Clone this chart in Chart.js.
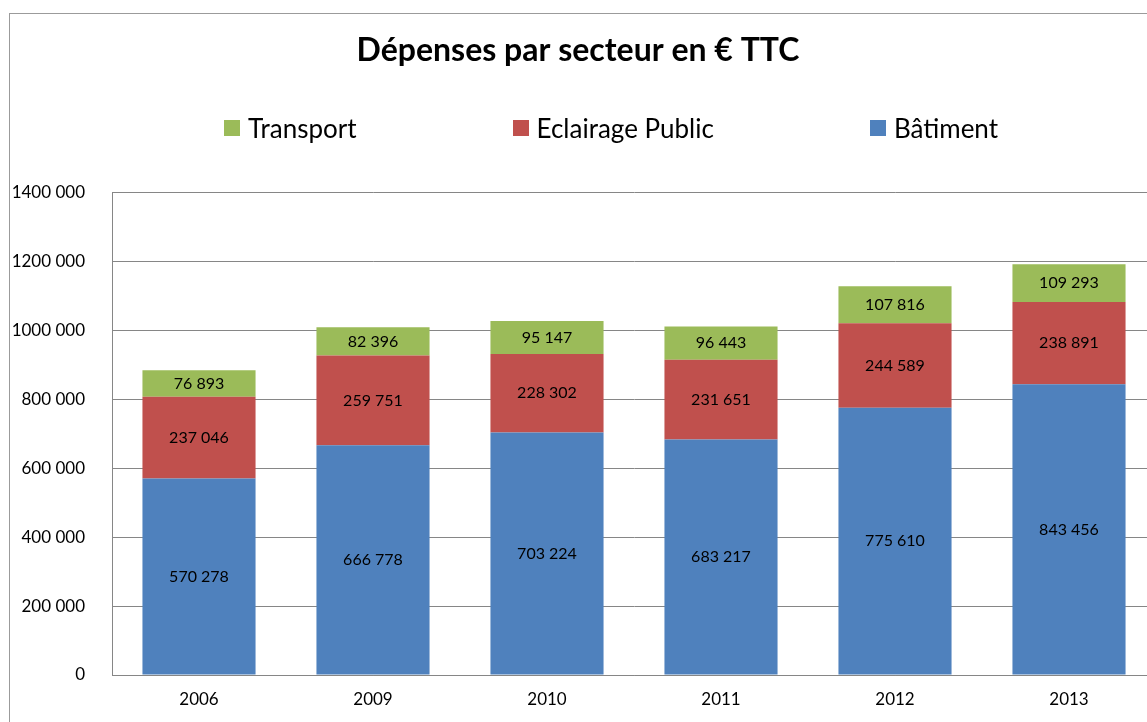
<!DOCTYPE html>
<html>
<head>
<meta charset="utf-8">
<script src="https://cdn.jsdelivr.net/npm/chart.js@4"></script>
<style>
  html, body { margin: 0; padding: 0; background: #fff; overflow: hidden; width: 1147px; height: 722px; }
  #frame { position: absolute; left: 9px; top: 13px; width: 1300px; height: 900px; border: 1px solid #9b9b9b; }
  #wrap { position: absolute; left: 0; top: 0; width: 1168px; height: 722px; }
  #legend { position: absolute; left: 224px; top: 112px; display: flex; gap: 156px; font: 26px Lato, sans-serif; color: #000; }
  #legend .item { display: flex; align-items: center; white-space: nowrap; }
  #legend .box { width: 16px; height: 16px; margin-right: 8px; display: inline-block; }
</style>
</head>
<body>
<div id="frame"></div>
<div id="wrap"><canvas id="chart" width="1168" height="722"></canvas></div>
<div id="legend"></div>
<script>
// Data
const years = ['2006', '2009', '2010', '2011', '2012', '2013'];
const batiment = [570278, 666778, 703224, 683217, 775610, 843456];
const eclairage = [237046, 259751, 228302, 231651, 244589, 238891];
const transport = [76893, 82396, 95147, 96443, 107816, 109293];
const yTickLabels = ['0', '200 000', '400 000', '600 000', '800 000', '1000 000', '1200 000', '1400 000'];

// Helpers
const fmt = v => String(v).replace(/\B(?=(\d{3})+(?!\d))/g, ' ');

Chart.defaults.font.family = 'Lato, sans-serif';
Chart.defaults.color = '#000';

// Value labels in the middle of each segment
const valueLabels = {
  id: 'valueLabels',
  afterDatasetsDraw(chart) {
    const { ctx } = chart;
    ctx.save();
    ctx.font = '16px Lato, sans-serif';
    ctx.fillStyle = '#000';
    ctx.textAlign = 'center';
    ctx.textBaseline = 'middle';
    chart.data.datasets.forEach((ds, i) => {
      chart.getDatasetMeta(i).data.forEach((bar, j) => {
        const p = bar.getCenterPoint();
        ctx.fillText(fmt(ds.data[j]), p.x, p.y);
      });
    });
    ctx.restore();
  }
};

const datasets = [
  { label: 'Bâtiment', data: batiment, backgroundColor: '#4F81BD' },
  { label: 'Eclairage Public', data: eclairage, backgroundColor: '#C0504D' },
  { label: 'Transport', data: transport, backgroundColor: '#9BBB59' }
];

const chart = new Chart(document.getElementById('chart'), {
  type: 'bar',
  data: { labels: years, datasets },
  options: {
    responsive: false,
    animation: false,
    layout: { padding: { left: 0, right: 12, top: 0, bottom: 0 } },
    datasets: { bar: { barPercentage: 1, categoryPercentage: 0.65, borderWidth: 0 } },
    plugins: {
      legend: { display: false },
      tooltip: { enabled: false },
      title: {
        display: true,
        text: 'Dépenses par secteur en € TTC',
        font: { size: 32, weight: 'bold' },
        color: '#000',
        padding: { top: 31, bottom: 123 }
      }
    },
    scales: {
      x: {
        stacked: true,
        grid: { display: false, drawTicks: false },
        border: { display: true, color: '#868686' },
        ticks: { padding: 14, font: { size: 17 } },
        afterFit: s => { s.height = 47; }
      },
      y: {
        stacked: true,
        min: 0, max: 1400000,
        grid: { color: '#868686', drawTicks: false },
        border: { display: true, color: '#868686' },
        ticks: {
          stepSize: 200000,
          padding: 27,
          font: { size: 17 },
          callback: (v, i) => yTickLabels[i]
        },
        afterFit: s => { s.width = 112; }
      }
    }
  },
  plugins: [valueLabels]
});

// Legend (reversed order, like the reference)
const legendEl = document.getElementById('legend');
datasets.slice().reverse().forEach(ds => {
  const item = document.createElement('div');
  item.className = 'item';
  const box = document.createElement('span');
  box.className = 'box';
  box.style.background = ds.backgroundColor;
  item.appendChild(box);
  item.appendChild(document.createTextNode(ds.label));
  legendEl.appendChild(item);
});
</script>
</body>
</html>
